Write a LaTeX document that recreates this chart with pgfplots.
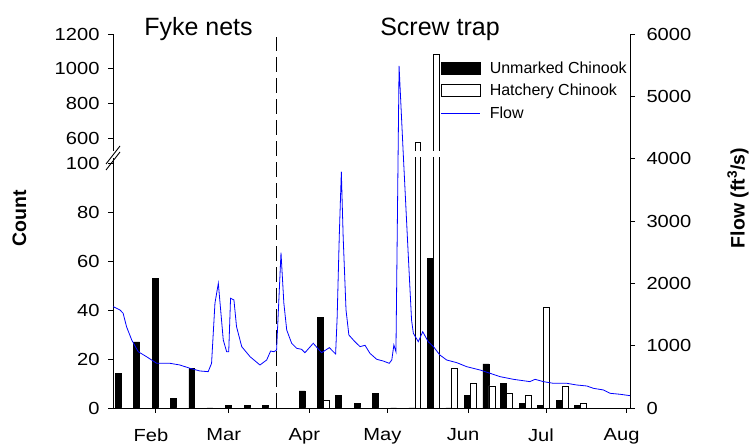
\documentclass[border=0pt]{standalone}
\usepackage{fontspec}
\setmainfont{Liberation Sans}
\newfontfamily\tickfont{Liberation Sans}[FakeStretch=1.15]
\usepackage{pgfplots}
\usepackage{pgfplotstable}
\pgfplotsset{compat=1.18}

% weekly catches: d = day of year (bar centre), u = unmarked, h = hatchery
\pgfplotstableread{
d     u   h
17.6  14  0
24.6  27  0
31.7  53  0
38.7  4   0
45.8  16  0
52.8  0   0
60.0  1   0
67.1  1   0
74.0  1   0
88.2  7   0
95.1  37  3
102.3 5   0
109.4 2   0
116.4 6   0
123.4 0   0
130.4 0   575
137.6 61  1080
144.6 0   16
151.7 5   10
158.9 18  9
165.7 10  6
172.8 2   5
179.9 1   41
187.0 3   9
194.0 1   2
}\bars

% daily flow (ft3/s)
\pgfplotstableread{
d     q
15.6  1625
18.2  1572
19.4  1519
20.7  1305
22.7  1091
25.2  903
28.4  823
32.3  717
37.4  717
41.2  690
45.1  637
48.9  594
52.1  583
53.4  717
54.7  1680
56.0  2000
57.9  1091
59.2  903
60.0  903
60.7  1760
62.0  1733
63.0  1305
65.0  984
68.2  823
72.0  690
74.6  770
76.1  914
77.4  903
78.4  930
80.1  2491
81.2  1680
82.3  1251
84.2  1038
86.1  958
88.0  942
89.3  887
92.5  1038
95.7  887
98.7  968
101.1 866
101.7 1465
102.5 2748
103.3 3791
104.0 2748
105.1 1572
106.2 1171
108.5 1064
110.5 984
112.4 1006
114.3 877
116.9 781
119.4 754
121.7 717
122.7 770
123.5 1011
124.3 903
125.5 5487
127.1 4086
129.0 2482
130.3 1412
131.0 1198
132.9 1064
134.6 1224
136.7 1064
138.7 984
141.2 850
143.8 770
147.7 727
151.5 663
156.6 610
160.5 557
164.3 503
169.5 460
175.8 423
177.8 460
181.0 423
184.8 396
190.0 396
193.8 369
197.7 353
200.2 316
204.1 289
206.6 236
210.5 220
214.3 198
}\flow

\pgfplotsset{
  base/.style={
    scale only axis, width=517pt,
    xmin=15.5, xmax=214.3,
    anchor=south west,
    tick align=outside,
    major tick length=5pt,
    axis line style={line width=0.9pt},
    every tick/.style={black, line width=0.9pt},
    scaled ticks=false,
    /pgf/number format/1000 sep={},
    /pgf/number format/assume math mode=true,
    tick label style={font=\tickfont\fontsize{17.5}{20}\selectfont},
  },
  legbar/.style={legend image code/.code={\draw[##1] (0pt,-6pt) rectangle (39pt,6pt);}},
  legline/.style={legend image code/.code={\draw[##1] (0pt,0pt) -- (39pt,0pt);}},
}

\begin{document}
\begin{tikzpicture}
\path[use as bounding box] (0,0) rectangle (749pt,446pt);

% lower part of the count axis
\begin{axis}[base, at={(113pt,38pt)}, height=250pt,
  ymin=0, ymax=102.04,
  axis x line*=bottom, axis y line*=left,
  ytick={0,20,...,100},
  yticklabel style={xshift=-5pt},
  xtick={32,60,91,121,152,182,213},
  xticklabels={Feb,Mar,Apr,May,Jun,Jul,Aug},
  xticklabel style={xshift=-5pt, yshift=-12pt},
]
\addplot[ybar, bar width=2.3, bar shift=0pt, fill=black, draw=black, line width=0.6pt]
  table[x=d, y=u] {\bars};
\addplot[ybar, bar width=2.3, bar shift=0pt, fill=white, draw=black, line width=0.6pt]
  table[x expr=\thisrow{d}+2.3, y=h] {\bars};
\end{axis}

% upper part of the count axis
\begin{axis}[base, at={(113pt,295pt)}, height=117pt,
  ymin=525, ymax=1200,
  axis x line=none, axis y line*=left,
  xtick=\empty,
  ytick={600,800,1000,1200},
  yticklabel style={xshift=-5pt},
]
\addplot[ybar, bar width=2.3, bar shift=0pt, fill=white, draw=black, line width=0.6pt]
  table[x expr=\thisrow{d}+2.3, y=h] {\bars};
\end{axis}

% flow axis
\begin{axis}[base, at={(113pt,38pt)}, height=374pt,
  ymin=0, ymax=6000,
  axis x line=none, axis y line*=right,
  xtick=\empty,
  ytick={0,1000,...,6000},
  yticklabel style={xshift=8pt},
  legend style={at={(rel axis cs:0.634,0.932)}, anchor=north west,
    draw=none, fill=none, inner sep=0pt, row sep=5.5pt,
    font=\fontsize{16}{19}\selectfont,
    nodes={inner ysep=2pt, inner xsep=4pt}},
  legend cell align=left,
]
\addplot[black, line width=1pt, dash pattern=on 15pt off 6pt, forget plot]
  coordinates {(78.5,0) (78.5,5950)};
\addlegendimage{legbar, fill=black, draw=black}
\addlegendentry{\hspace{5pt}Unmarked Chinook}
\addlegendimage{legbar, fill=white, draw=black, line width=0.8pt}
\addlegendentry{\hspace{5pt}Hatchery Chinook}
\addplot[blue, line width=0.8pt, legline] table[x=d, y=q] {\flow};
\addlegendentry{\hspace{5pt}Flow}
\end{axis}

% axis break marks
\draw[line width=0.9pt] (106pt,282pt) -- (120pt,300pt);
\draw[line width=0.9pt] (106pt,276pt) -- (120pt,294pt);

\node[font=\fontsize{25}{30}\selectfont, anchor=base] at (198.5pt,410pt) {Fyke nets};
\node[font=\fontsize{25}{30}\selectfont, anchor=base] at (440pt,410pt) {Screw trap};
\node[rotate=90, font=\bfseries\fontsize{19.5}{23}\selectfont] at (19.5pt,228pt) {Count};
\node[rotate=90, font=\bfseries\fontsize{19.5}{23}\selectfont] at (738pt,248pt) {Flow (ft\textsuperscript{3}/s)};
\end{tikzpicture}
\end{document}
